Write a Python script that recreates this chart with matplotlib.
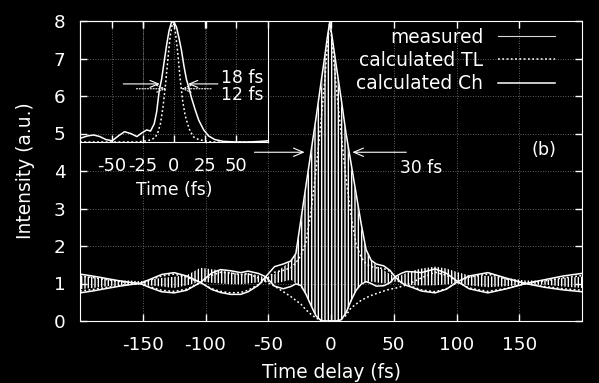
import matplotlib
matplotlib.use('Agg')
import matplotlib.pyplot as plt
from matplotlib.lines import Line2D

plt.rcParams['font.family'] = ['DejaVu Sans']
plt.rcParams['axes.unicode_minus'] = False
plt.rcParams['hatch.linewidth'] = 1.0

# delay axis (fs) shared by all traces of the main plot
delay = [-200, -190, -180, -170, -160, -152, -145, -135, -125, -115,
         -104, -95, -88, -80, -72, -66, -58, -52, -45, -38,
         -32, -28, -24, -20, -16, -12, -8, -5, -3, -1,
         1, 4, 8, 12, 16, 20, 24, 28, 32, 36,
         42, 47, 51, 56, 60, 66, 72, 83, 92, 101,
         110, 125, 140, 155, 170, 185, 200]

# calculated Ch: upper / lower envelope
ch_upper = [0.75, 0.80, 0.86, 0.92, 0.97, 1.00, 1.10, 1.24, 1.29, 1.20,
            1.03, 0.84, 0.76, 0.71, 0.71, 0.78, 0.95, 1.18, 1.45, 1.52,
            1.60, 1.80, 2.70, 3.60, 4.50, 5.40, 6.35, 7.05, 7.55, 7.98,
            7.55, 6.85, 5.95, 5.00, 4.20, 3.40, 2.60, 1.90, 1.62, 1.52,
            1.47, 1.35, 1.18, 1.02, 0.95, 0.88, 0.80, 0.75, 0.85, 1.05,
            1.20, 1.29, 1.14, 1.00, 0.90, 0.83, 0.78]
ch_lower = [1.25, 1.20, 1.14, 1.08, 1.03, 1.00, 0.90, 0.78, 0.75, 0.82,
            1.03, 1.28, 1.37, 1.34, 1.29, 1.33, 1.27, 1.18, 0.93, 0.86,
            0.92, 0.99, 0.95, 0.72, 0.42, 0.14, 0.01, 0.00, 0.00, 0.00,
            0.00, 0.00, 0.03, 0.22, 0.55, 0.82, 0.98, 1.05, 1.00, 0.93,
            0.94, 1.02, 1.18, 1.27, 1.32, 1.31, 1.29, 1.39, 1.27, 1.05,
            0.86, 0.75, 0.86, 1.00, 1.10, 1.20, 1.27]

# calculated TL: upper / lower envelope
tl_upper = [0.80, 0.84, 0.89, 0.94, 0.98, 1.00, 1.08, 1.20, 1.25, 1.17,
            1.02, 0.86, 0.79, 0.75, 0.76, 0.82, 0.97, 1.10, 1.30, 1.35,
            1.42, 1.55, 1.75, 2.10, 2.90, 4.00, 5.30, 6.40, 7.30, 7.98,
            7.40, 6.30, 5.00, 3.80, 2.80, 2.05, 1.70, 1.52, 1.45, 1.42,
            1.40, 1.32, 1.18, 1.04, 0.97, 0.90, 0.83, 0.78, 0.86, 1.04,
            1.17, 1.25, 1.12, 1.00, 0.92, 0.86, 0.82]
tl_lower = [1.20, 1.16, 1.11, 1.06, 1.02, 1.00, 0.92, 0.82, 0.79, 0.85,
            1.02, 1.22, 1.30, 1.28, 1.24, 1.26, 1.15, 1.05, 0.93, 0.78,
            0.65, 0.55, 0.45, 0.30, 0.18, 0.08, 0.02, 0.00, 0.00, 0.00,
            0.00, 0.00, 0.04, 0.15, 0.35, 0.45, 0.55, 0.62, 0.68, 0.73,
            0.80, 0.85, 0.87, 0.92, 0.96, 1.05, 1.15, 1.30, 1.22, 1.04,
            0.88, 0.79, 0.87, 1.00, 1.07, 1.15, 1.21]

# measured fringes: extent of the fringe pattern
meas_upper = [1.20, 1.18, 1.12, 1.08, 1.08, 1.06, 1.10, 1.15, 1.18, 1.22,
              1.42, 1.38, 1.35, 1.30, 1.25, 1.28, 1.22, 1.15, 1.25, 1.45,
              1.60, 1.78, 2.60, 3.50, 4.40, 5.30, 6.20, 6.90, 7.45, 7.90,
              7.45, 6.75, 5.85, 4.90, 4.10, 3.30, 2.50, 1.85, 1.62, 1.48,
              1.35, 1.25, 1.18, 1.22, 1.28, 1.35, 1.40, 1.45, 1.40, 1.30,
              1.22, 1.20, 1.15, 1.08, 1.08, 1.15, 1.18]
meas_lower = [0.85, 0.88, 0.92, 0.95, 0.96, 0.97, 0.95, 0.92, 0.88, 0.95,
              1.05, 1.02, 1.00, 0.98, 0.98, 1.00, 1.03, 1.05, 1.00, 1.05,
              1.10, 1.00, 0.90, 0.70, 0.40, 0.12, 0.01, 0.00, 0.00, 0.00,
              0.00, 0.00, 0.03, 0.20, 0.50, 0.80, 1.00, 1.05, 1.05, 1.03,
              1.00, 1.02, 1.05, 1.02, 0.98, 0.95, 0.95, 0.95, 0.98, 1.00,
              0.95, 0.90, 0.93, 0.96, 0.97, 0.92, 0.88]

# inset: retrieved intensity profiles (normalised)
inset_ch_t = [-76, -70, -65, -60, -55, -50, -45, -40, -35, -30, -26, -22, -19,
              -16, -14, -12, -10, -8, -6, -4, -2, -1, 0, 2, 4, 6, 8, 10, 12,
              14, 17, 20, 24, 28, 33, 40, 50, 60, 70, 76]
inset_ch = [0.03, 0.05, 0.058, 0.045, 0.02, 0.01, 0.05, 0.085, 0.07, 0.045,
            0.075, 0.10, 0.09, 0.15, 0.25, 0.42, 0.52, 0.66, 0.80, 0.92, 0.99,
            1.0, 0.99, 0.95, 0.86, 0.76, 0.63, 0.52, 0.45, 0.37, 0.27, 0.18,
            0.10, 0.05, 0.02, 0.005, 0.0, 0.0, 0.005, 0.01]
inset_tl_t = [-76, -30, -22, -18, -15, -13, -11, -9, -7, -5, -3, -1, 1, 3, 5,
              7, 9, 11, 13, 16, 20, 25, 30, 76]
inset_tl = [0.0, 0.0, 0.01, 0.02, 0.04, 0.08, 0.15, 0.28, 0.46, 0.68, 0.88,
            1.0, 0.92, 0.74, 0.52, 0.34, 0.22, 0.15, 0.09, 0.04, 0.02, 0.01,
            0.0, 0.0]

x_ticks = [-150, -100, -50, 0, 50, 100, 150]
y_ticks = [0, 1, 2, 3, 4, 5, 6, 7, 8]
inset_ticks = [-50, -25, 0, 25, 50]

dots = (0, (1.2, 1.6))
grid_style = dict(color='0.5', ls=(0, (1, 2)), lw=0.6)

fig = plt.figure(figsize=(5.99, 3.83), dpi=100, facecolor='black')
ax = fig.add_axes([80 / 599, 1 - 321 / 383, 502 / 599, 300 / 383])
ax.set_facecolor('black')

ax.fill_between(delay, meas_lower, meas_upper, facecolor='none',
                edgecolor='white', hatch='|||||', linewidth=0)
ax.plot(delay, tl_upper, color='white', lw=1.1, ls=dots)
ax.plot(delay, tl_lower, color='white', lw=1.1, ls=dots)
ax.plot(delay, ch_upper, color='white', lw=1.1)
ax.plot(delay, ch_lower, color='white', lw=1.1)

ax.set_xlim(-200, 200)
ax.set_ylim(0, 8)
ax.set_xticks(x_ticks)
ax.set_yticks(y_ticks)
ax.set_axisbelow(True)
ax.grid(True, **grid_style)
ax.tick_params(direction='in', top=True, right=True, length=5, width=1,
               colors='white', labelsize=13.2)
ax.tick_params(axis='x', pad=10.5)
ax.tick_params(axis='y', pad=10.5)
for s in ax.spines.values():
    s.set_color('white')
ax.set_xlabel('Time delay (fs)', color='white', fontsize=13.4, labelpad=7)
ax.set_ylabel('Intensity (a.u.)', color='white', fontsize=13.4, labelpad=13.5)

arw = dict(arrowstyle='->,head_length=0.7,head_width=0.3', color='white',
           lw=0.8, shrinkA=0, shrinkB=0)
ax.annotate('', xy=(-21, 4.5), xytext=(-61, 4.5), arrowprops=arw)
ax.annotate('', xy=(17, 4.5), xytext=(60, 4.5), arrowprops=arw)
ax.text(72, 4.08, '30 fs', color='white', fontsize=12.3, ha='center', va='center')
ax.text(170, 4.55, '(b)', color='white', fontsize=12.7, ha='center', va='center')

handles = [Line2D([], [], color='0.85', lw=0.8),
           Line2D([], [], color='white', lw=1.1, ls=dots),
           Line2D([], [], color='white', lw=1.1)]
labels = ['measured', 'calculated TL', 'calculated Ch']
ax.legend(handles, labels, loc='upper right', bbox_to_anchor=(0.946, 0.977),
          frameon=False, markerfirst=False, handlelength=3.05,
          handletextpad=0.8, labelspacing=0.22, fontsize=13.4,
          labelcolor='white', borderaxespad=0, borderpad=0)

# inset
ins = fig.add_axes([80 / 599, 1 - 142 / 383, 188 / 599, 121 / 383])
ins.set_facecolor('none')
ins.plot(inset_tl_t, inset_tl, color='white', lw=1.1, ls=dots)
ins.plot(inset_ch_t, inset_ch, color='white', lw=1.1)
ins.set_xlim(-76, 76)
ins.set_ylim(0, 1)
ins.set_xticks(inset_ticks)
ins.set_yticks([])
ins.grid(True, axis='x', **grid_style)
ins.tick_params(direction='in', top=True, length=5, width=1, colors='white',
                labelsize=12.9, pad=11)
for s in ins.spines.values():
    s.set_color('white')
ins.set_xlabel('Time (fs)', color='white', fontsize=12.4, labelpad=4)

arw_s = dict(arrowstyle='->,head_length=0.6,head_width=0.25', color='white',
             lw=0.8, shrinkA=0, shrinkB=0)
arw_d = dict(arw_s, ls=(0, (1, 1.5)))
ins.annotate('', xy=(-11.5, 0.48), xytext=(-41, 0.48), arrowprops=arw_s)
ins.annotate('', xy=(11.3, 0.48), xytext=(35.5, 0.48), arrowprops=arw_s)
ins.annotate('', xy=(-6.2, 0.44), xytext=(-30.4, 0.44), arrowprops=arw_d)
ins.annotate('', xy=(5.9, 0.44), xytext=(30, 0.44), arrowprops=arw_d)
ins.text(38, 0.53, '18 fs', color='white', fontsize=12.4, ha='left', va='center')
ins.text(38, 0.385, '12 fs', color='white', fontsize=12.4, ha='left', va='center')

fig.savefig('out.png', dpi=100, facecolor='black')
